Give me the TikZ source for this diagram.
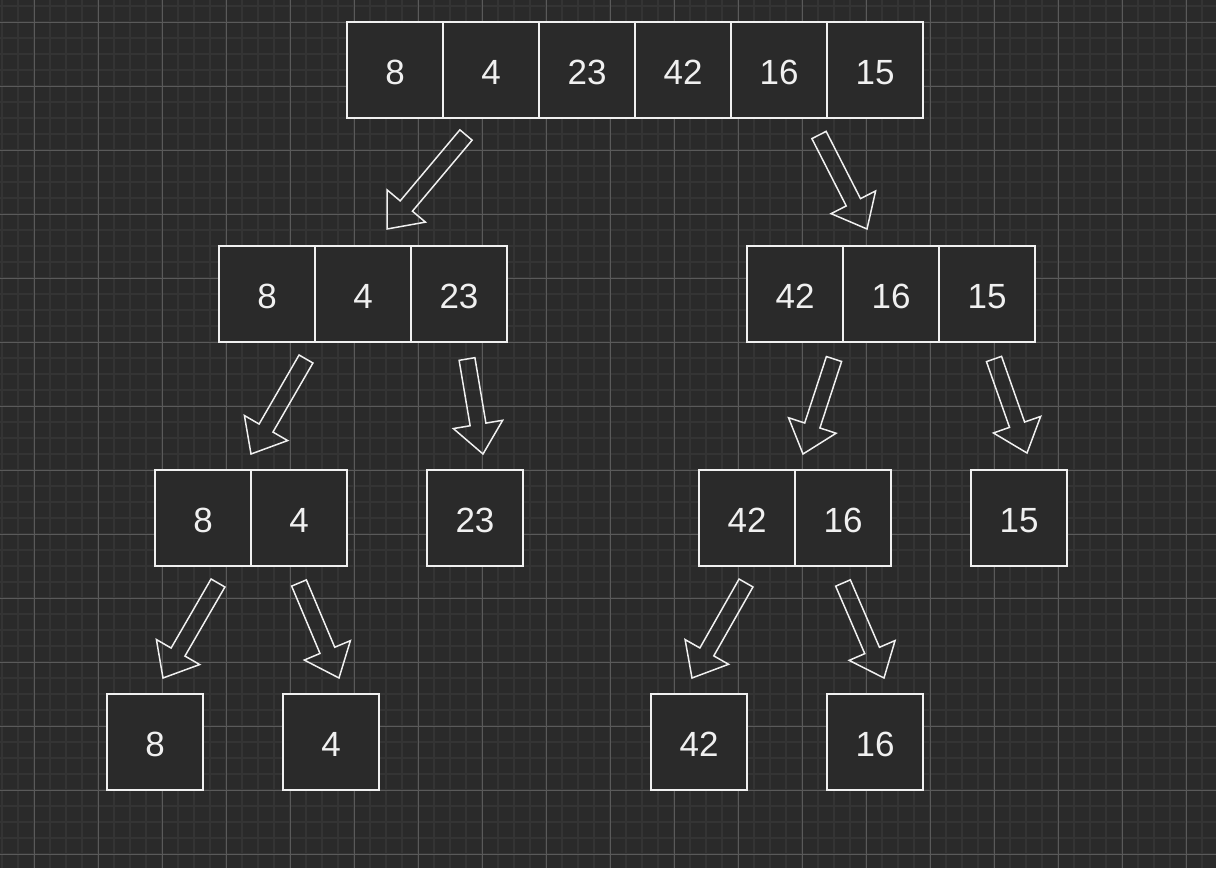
\documentclass[tikz,border=0pt]{standalone}
\usepackage{fontspec}
\setmainfont{Liberation Sans}
\usetikzlibrary{calc}
\definecolor{bgc}{HTML}{2A2A2A}
\definecolor{minorc}{HTML}{343434}
\definecolor{majorc}{HTML}{5A5A5A}
\definecolor{linec}{HTML}{F0F0F0}
\tikzset{
  minorline/.style={draw=minorc,line width=1.6pt},
  majorline/.style={draw=majorc,line width=1pt},
  cell/.style={draw=linec,fill=bgc,line width=1.3pt,minimum width=96pt,minimum height=96pt,inner sep=0pt,outer sep=0pt,text=linec,font=\fontsize{35}{40}\selectfont,text height=28pt,text depth=0pt},
  barrow/.style={draw=linec,line width=1.5pt,line join=miter}
}
\newcommand{\blockarrow}[2]{%
  \coordinate (#2-b) at ($(#2)!30pt!(#1)$);
  \draw[barrow] ($(#1)!8pt!90:(#2)$) -- ($(#2-b)!8pt!90:(#2)$) -- ($(#2-b)!25pt!90:(#2)$) -- (#2) -- ($(#2-b)!25pt!-90:(#2)$) -- ($(#2-b)!8pt!-90:(#2)$) -- ($(#1)!8pt!-90:(#2)$) -- cycle;
}
\begin{document}
\begin{tikzpicture}[x=1pt,y=-1pt]
\useasboundingbox (0,0) rectangle (1216,868);
\fill[bgc] (0,0) rectangle (1216,868);
\foreach \x in {2,18,...,1216} \draw[minorline] (\x,0) -- (\x,868);
\foreach \y in {6,22,...,868} \draw[minorline] (0,\y) -- (1216,\y);
\foreach \x in {34,98,...,1216} \draw[majorline] (\x,0) -- (\x,868);
\foreach \y in {22,86,...,868} \draw[majorline] (0,\y) -- (1216,\y);
% row 1
\node[cell] (r1a) at (395,70) {8};
\node[cell] (r1b) at (491,70) {4};
\node[cell] (r1c) at (587,70) {23};
\node[cell] (r1d) at (683,70) {42};
\node[cell] (r1e) at (779,70) {16};
\node[cell] (r1f) at (875,70) {15};
% row 2
\node[cell] (r2a) at (267,294) {8};
\node[cell] (r2b) at (363,294) {4};
\node[cell] (r2c) at (459,294) {23};
\node[cell] (r2d) at (795,294) {42};
\node[cell] (r2e) at (891,294) {16};
\node[cell] (r2f) at (987,294) {15};
% row 3
\node[cell] (r3a) at (203,518) {8};
\node[cell] (r3b) at (299,518) {4};
\node[cell] (r3c) at (475,518) {23};
\node[cell] (r3d) at (747,518) {42};
\node[cell] (r3e) at (843,518) {16};
\node[cell] (r3f) at (1019,518) {15};
% row 4
\node[cell] (r4a) at (155,742) {8};
\node[cell] (r4b) at (331,742) {4};
\node[cell] (r4c) at (699,742) {42};
\node[cell] (r4d) at (875,742) {16};
% arrow ends
\coordinate (t1) at (466,135);   \coordinate (p1) at (387,229);
\coordinate (t2) at (819,135);   \coordinate (p2) at (867,229);
\coordinate (t3) at (306,359);   \coordinate (p3) at (251,454);
\coordinate (t4) at (467,359);   \coordinate (p4) at (483,454);
\coordinate (t5) at (834,359);   \coordinate (p5) at (803,454);
\coordinate (t6) at (994,359);   \coordinate (p6) at (1027,453);
\coordinate (t7) at (218,583);   \coordinate (p7) at (163,678);
\coordinate (t8) at (299,583);   \coordinate (p8) at (339,678);
\coordinate (t9) at (746,583);   \coordinate (p9) at (692,678);
\coordinate (t10) at (843,583);  \coordinate (p10) at (884,678);
\blockarrow{t1}{p1}
\blockarrow{t2}{p2}
\blockarrow{t3}{p3}
\blockarrow{t4}{p4}
\blockarrow{t5}{p5}
\blockarrow{t6}{p6}
\blockarrow{t7}{p7}
\blockarrow{t8}{p8}
\blockarrow{t9}{p9}
\blockarrow{t10}{p10}
\end{tikzpicture}
\end{document}
